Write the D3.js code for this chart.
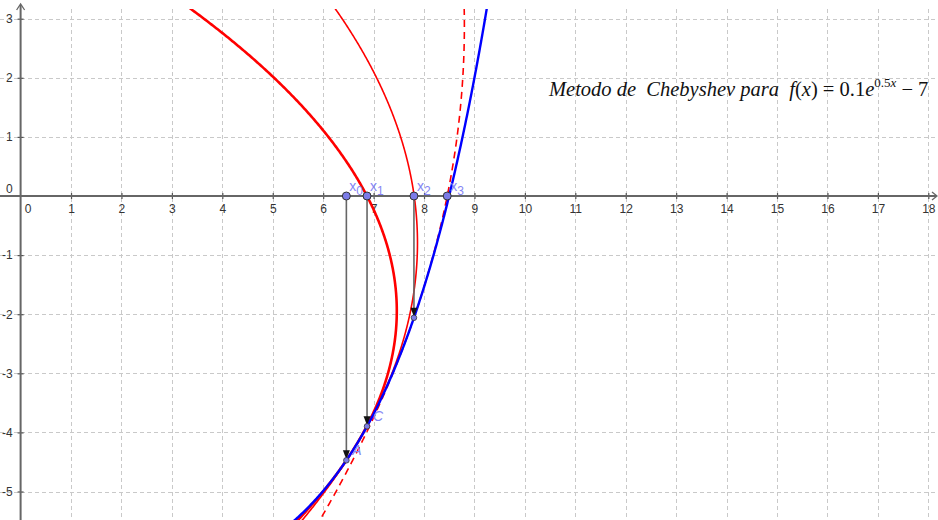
<!DOCTYPE html>
<html>
<head>
<meta charset="utf-8">
<script src="https://cdn.jsdelivr.net/npm/d3@7/dist/d3.min.js"></script>
<style>
body { margin: 0; background: #fff; }
svg { display: block; }
</style>
</head>
<body>
<script>
// Chebyshev iterates
var iterates = [6.46, 6.87, 7.80, 8.46];
var iterateLabels = ["0", "1", "2", "3"];
var curvePointLabels = ["A", "C", ""];
var xTicks = d3.range(0, 19);
var yTicks = [-5, -4, -3, -2, -1, 0, 1, 2, 3];

var W = 938, H = 520, top0 = 9;

// f(x) = 0.1 e^{0.5x} - 7
function f(x) { return 0.1 * Math.exp(0.5 * x) - 7; }
function f1(x) { return 0.05 * Math.exp(0.5 * x); }
function f2(x) { return 0.025 * Math.exp(0.5 * x); }

var x = d3.scaleLinear().domain([-0.4085, 18.192]).range([0, W]);
var y = d3.scaleLinear().domain([-5.482, 3.3164]).range([H, 0]);

var svg = d3.select("body").append("svg")
    .attr("width", W)
    .attr("height", H)
    .style("font-family", "'Liberation Sans', Arial, sans-serif");

svg.append("defs").append("clipPath").attr("id", "view")
    .append("rect").attr("x", 0).attr("y", top0).attr("width", W).attr("height", H - top0);

//Grid
var grid = svg.append("g").attr("clip-path", "url(#view)")
    .attr("stroke", "#c9c9c9").attr("stroke-width", 1).attr("stroke-dasharray", "4,3");
grid.selectAll(".gx").data(xTicks.filter(function (d) { return d !== 0; }))
    .enter().append("line")
    .attr("x1", function (d) { return Math.round(x(d)) + 0.5; })
    .attr("x2", function (d) { return Math.round(x(d)) + 0.5; })
    .attr("y1", top0).attr("y2", H);
grid.selectAll(".gy").data(yTicks.filter(function (d) { return d !== 0; }))
    .enter().append("line")
    .attr("y1", function (d) { return Math.round(y(d)) + 0.5; })
    .attr("y2", function (d) { return Math.round(y(d)) + 0.5; })
    .attr("x1", 0).attr("x2", W);

//Axes
var x0px = x(0), y0px = y(0);
var xAxis = svg.append("g")
    .attr("transform", "translate(0," + y0px + ")")
    .call(d3.axisBottom(x).tickValues(xTicks).tickSize(3).tickSizeOuter(0).tickPadding(5));
xAxis.select(".domain").remove();
xAxis.selectAll(".tick line").attr("y1", -3).attr("stroke", "#555").attr("stroke-width", 1.2);
xAxis.selectAll(".tick text").attr("font-size", 12).attr("fill", "#333")
    .attr("dx", function (d) { return d === 0 ? 7 : 0; });
xAxis.selectAll(".tick").filter(function (d) { return d === 0; }).select("line").remove();

var yAxis = svg.append("g")
    .attr("transform", "translate(" + x0px + ",0)")
    .call(d3.axisLeft(y).tickValues(yTicks).tickSize(3).tickSizeOuter(0).tickPadding(5)
        .tickFormat(function (d) { return d < 0 ? "-" + (-d) : d; }));
yAxis.select(".domain").remove();
yAxis.selectAll(".tick line").attr("x1", 3).attr("stroke", "#555").attr("stroke-width", 1.2);
yAxis.selectAll(".tick text").attr("font-size", 12).attr("fill", "#333");
yAxis.selectAll(".tick").filter(function (d) { return d === 0; })
    .select("text").attr("dy", "-0.3em");
yAxis.selectAll(".tick").filter(function (d) { return d === 0; }).select("line").remove();

svg.append("line").attr("x1", 0).attr("x2", W - 2).attr("y1", y0px).attr("y2", y0px)
    .attr("stroke", "#666").attr("stroke-width", 2);
svg.append("line").attr("x1", x0px).attr("x2", x0px).attr("y1", 5).attr("y2", H)
    .attr("stroke", "#666").attr("stroke-width", 2);
svg.append("path").attr("d", "M" + (W - 6) + "," + (y0px - 4) + "L" + (W - 1) + "," + y0px + "L" + (W - 6) + "," + (y0px + 4))
    .attr("fill", "none").attr("stroke", "#666").attr("stroke-width", 1.3);
svg.append("path").attr("d", "M" + (x0px - 4) + ",10L" + x0px + ",4L" + (x0px + 4) + ",10")
    .attr("fill", "none").attr("stroke", "#666").attr("stroke-width", 1.3);

//Curves
var plot = svg.append("g").attr("clip-path", "url(#view)");

// osculating parabolas x(y) at each iterate (except the last)
var yGrid = d3.range(-5.6, 3.5, 0.02);
function parabola(xi) {
    var yi = f(xi), d1 = f1(xi), d2 = f2(xi);
    return yGrid.map(function (yy) {
        var t = yy - yi;
        return [xi + t / d1 - d2 * t * t / (2 * d1 * d1 * d1), yy];
    });
}
var line = d3.line().x(function (d) { return x(d[0]); }).y(function (d) { return y(d[1]); });
var parStyles = [
    {w: 2.6, dash: null},
    {w: 1.6, dash: null},
    {w: 1.6, dash: "7,5"}
];
iterates.slice(0, 3).forEach(function (xi, i) {
    plot.append("path").datum(parabola(xi))
        .attr("d", line)
        .attr("fill", "none")
        .attr("stroke", "#ff0000")
        .attr("stroke-width", parStyles[i].w)
        .attr("stroke-dasharray", parStyles[i].dash);
});

var xGrid = d3.range(5, 9.6, 0.01);
plot.append("path").datum(xGrid.map(function (xx) { return [xx, f(xx)]; }))
    .attr("d", line)
    .attr("fill", "none")
    .attr("stroke", "#0000ff")
    .attr("stroke-width", 2.4);

//Vertical arrows x_n -> f(x_n)
iterates.slice(0, 3).forEach(function (xi) {
    var px = x(xi), py = y(f(xi));
    plot.append("line").attr("x1", px).attr("x2", px).attr("y1", y0px).attr("y2", py - 8)
        .attr("stroke", "#666").attr("stroke-width", 1.6);
    plot.append("path").attr("d", "M" + (px - 3.5) + "," + (py - 10) + "L" + (px + 3.5) + "," + (py - 10) + "L" + px + "," + (py - 1) + "Z")
        .attr("fill", "#111");
});

//Points
var ptColor = "#7b7be8", lblColor = "#8585f5";
iterates.slice(0, 3).forEach(function (xi, i) {
    var px = x(xi), py = y(f(xi));
    plot.append("circle").attr("cx", px).attr("cy", py).attr("r", 2.8)
        .attr("fill", ptColor).attr("stroke", "#333").attr("stroke-width", 0.8);
    plot.append("text").attr("x", px + 6).attr("y", py - 5)
        .attr("font-size", 14).attr("font-style", "italic").attr("fill", lblColor)
        .text(curvePointLabels[i]);
});
iterates.forEach(function (xi, i) {
    var px = x(xi);
    plot.append("circle").attr("cx", px).attr("cy", y0px).attr("r", 4)
        .attr("fill", ptColor).attr("stroke", "#333").attr("stroke-width", 1);
    var t = plot.append("text").attr("x", px + 3).attr("y", y0px - 5)
        .attr("font-size", 14).attr("fill", lblColor);
    t.append("tspan").text("x");
    t.append("tspan").attr("font-size", 12).attr("dy", 4).text(iterateLabels[i]);
});

//Title
var title = svg.append("text").attr("x", 549).attr("y", 96)
    .attr("font-family", "'Liberation Serif', 'DejaVu Serif', serif")
    .attr("font-style", "italic").attr("font-size", 20.5).attr("fill", "#111");
title.append("tspan").text("Metodo de\u00a0\u00a0Chebyshev para\u00a0\u00a0f");
title.append("tspan").attr("font-style", "normal").text("(");
title.append("tspan").text("x");
title.append("tspan").attr("font-style", "normal").text(") = 0.1");
title.append("tspan").text("e");
title.append("tspan").attr("font-size", 13).attr("dy", -9).attr("font-style", "normal").text("0.5");
title.append("tspan").attr("font-size", 13).text("x");
title.append("tspan").attr("dy", 9).attr("font-style", "normal").text(" \u2212 7");
</script>
</body>
</html>
